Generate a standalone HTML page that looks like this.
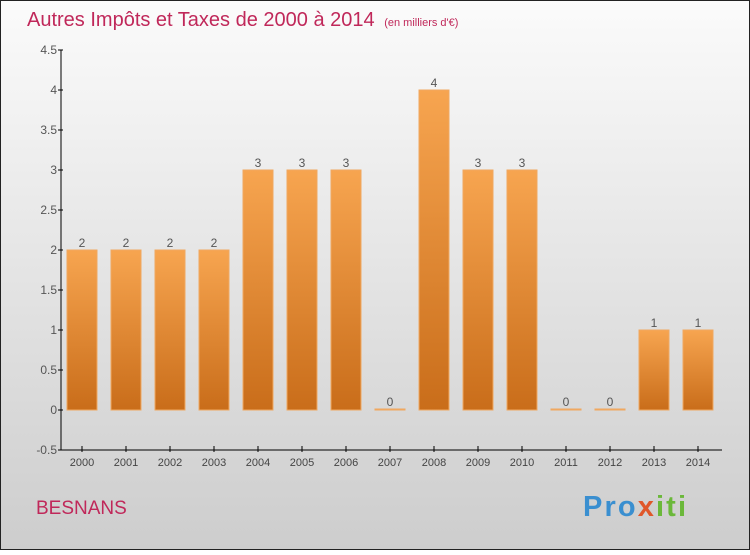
<!DOCTYPE html>
<html><head><meta charset="utf-8"><style>
body{margin:0;width:750px;height:550px;overflow:hidden;font-family:"Liberation Sans",sans-serif}
</style></head><body>
<svg width="750" height="550" xmlns="http://www.w3.org/2000/svg">
<defs>
<linearGradient id="bg" x1="0" y1="0" x2="0" y2="1"><stop offset="0" stop-color="#fbfbfb"/><stop offset="1" stop-color="#cdcdcd"/></linearGradient>
<linearGradient id="bar" x1="0" y1="0" x2="0" y2="1"><stop offset="0" stop-color="#f7a550"/><stop offset="1" stop-color="#c96d1a"/></linearGradient>
</defs>
<rect x="0.5" y="0.5" width="749" height="549" fill="url(#bg)" stroke="#222"/>
<text x="27" y="26" font-size="20" fill="#c0285a">Autres Impôts et Taxes de 2000 à 2014 <tspan font-size="11" dx="4">(en milliers d'€)</tspan></text>
<g id="axes"></g>
<g id="bars"></g>
<text x="36" y="514" font-size="19" fill="#c0285a">BESNANS</text>
<text x="583" y="516" font-size="29" font-weight="bold" fill="#3a8fd0" textLength="103">Pro<tspan fill="#e0572a">x</tspan><tspan fill="#6bb83a">iti</tspan></text>
</svg>
<script>
const categories=["2000","2001","2002","2003","2004","2005","2006","2007","2008","2009","2010","2011","2012","2013","2014"];
const values=[2,2,2,2,3,3,3,0,4,3,3,0,0,1,1];
const labels=["2","2","2","2","3","3","3","0","4","3","3","0","0","1","1"];
const ticks=[-0.5,0,0.5,1,1.5,2,2.5,3,3.5,4,4.5];
const NS="http://www.w3.org/2000/svg";
const y=v=>410-v*80, x=i=>82+i*44;
function mk(t,a,p){const e=document.createElementNS(NS,t);for(const k in a)e.setAttribute(k,a[k]);p.appendChild(e);return e;}
const ax=document.getElementById('axes'), bg=document.getElementById('bars');
let l=mk('line',{x1:61,y1:y(4.5),x2:61,y2:y(-0.5),stroke:'#000'},ax);


l=mk('line',{x1:61,y1:y(-0.5),x2:722,y2:y(-0.5),stroke:'#000'},ax);


ticks.forEach(t=>{
 mk('line',{x1:58,x2:63,y1:y(t),y2:y(t),stroke:'#000'},ax);
 const tx=mk('text',{x:57,y:y(t)+4,'font-size':12,'text-anchor':'end',fill:'#555'},ax);
 tx.textContent=String(t);
 
 
});
categories.forEach((c,i)=>{
 mk('line',{x1:x(i),x2:x(i),y1:y(-0.5)-4,y2:y(-0.5)+2,stroke:'#000'},ax);
 const tx=mk('text',{x:x(i),y:466,'font-size':11,'text-anchor':'middle',fill:'#444'},ax);
 tx.textContent=c;
 
 
 const v=values[i], top=y(v), h=Math.max(1,410-top);
 const r=mk('rect',{x:x(i)-15,y:Math.min(top,409),width:30,height:h,fill:'url(#bar)',stroke:'#f0a860','stroke-width':1},bg);
 
 
 const lb=mk('text',{x:x(i),y:Math.min(top,409)-3,'font-size':12,'text-anchor':'middle',fill:'#555'},bg);
 lb.textContent=labels[i];
 
 
});
</script>
</body></html>
